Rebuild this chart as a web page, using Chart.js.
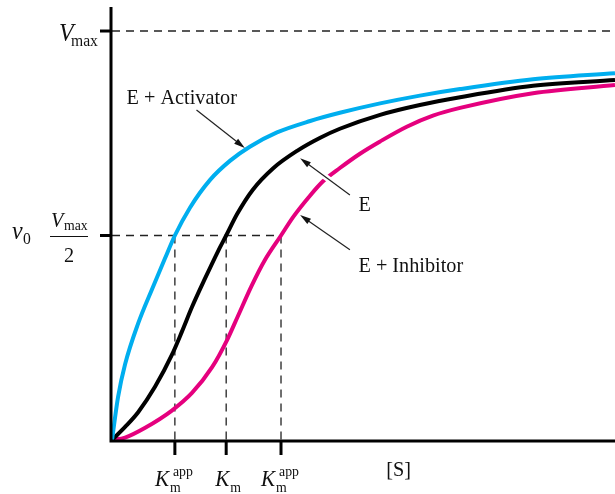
<!DOCTYPE html>
<html>
<head>
<meta charset="utf-8">
<script src="https://cdn.jsdelivr.net/npm/chart.js@4.4.0/dist/chart.umd.min.js"></script>
<style>
  body { margin: 0; background: #fff; }
  #wrap { width: 615px; height: 494px; position: relative; }
</style>
</head>
<body>
<div id="wrap"><canvas id="kineticsChart"></canvas></div>
<script>
// [S] (arbitrary units) and v0 / Vmax
const sActivator = [0, 0.12, 0.26, 0.52, 0.80, 1.05, 1.25, 1.55, 1.95, 2.35, 2.74, 3.28, 3.94, 4.53, 5.33, 6.12, 6.92, 8.37, 10];
const vActivator = [0, 0.105, 0.185, 0.285, 0.370, 0.443, 0.5, 0.568, 0.636, 0.683, 0.717, 0.752, 0.780, 0.800, 0.823, 0.842, 0.858, 0.882, 0.897];

const sEnzyme = [0, 0.26, 0.52, 0.855, 1.19, 1.39, 1.59, 1.85, 2.11, 2.27, 2.49, 2.80, 3.20, 3.68, 4.14, 4.53, 5.33, 6.12, 6.92, 8.37, 10];
const vEnzyme = [0, 0.032, 0.068, 0.130, 0.208, 0.265, 0.325, 0.395, 0.462, 0.5, 0.553, 0.612, 0.664, 0.707, 0.739, 0.761, 0.795, 0.819, 0.838, 0.866, 0.880];

const sInhibitor = [0, 0.26, 0.66, 1.19, 1.59, 1.99, 2.29, 2.50, 2.78, 3.04, 3.36, 3.60, 3.94, 4.19, 4.53, 4.93, 5.33, 5.86, 6.38, 6.92, 8.37, 10];
const vInhibitor = [0, 0.006, 0.030, 0.072, 0.115, 0.178, 0.245, 0.302, 0.378, 0.440, 0.5, 0.545, 0.598, 0.632, 0.665, 0.700, 0.730, 0.766, 0.793, 0.812, 0.848, 0.868];

const vmax = 1;
const halfV = 0.5;
const sMax = 10;
// Km^app (activator), Km, Km^app (inhibitor)
const kmValues = [1.25, 2.27, 3.36];
const kmSup = ['app', '', 'app'];
const sLabelAt = 5.7;

const curveLabels = ['E + Activator', 'E', 'E + Inhibitor'];
// arrow [start s, start v, tip s, tip v] and text anchor [s, v]
const arrows = [[1.68, 0.807, 2.64, 0.714], [4.73, 0.599, 3.74, 0.689], [4.73, 0.465, 3.74, 0.550]];
const textAnchors = [[0.29, 0.822], [4.90, 0.559], [4.90, 0.411]];

const BLUE = '#00aeef';
const PINK = '#e5007e';

function pts(xs, ys) { return xs.map((x, i) => ({ x: x, y: ys[i] })); }

function curve(label, xs, ys, color) {
  return {
    label: label, data: pts(xs, ys), borderColor: color, borderWidth: 4,
    pointRadius: 0, cubicInterpolationMode: 'monotone', fill: false, order: 0
  };
}
function dashed(data) {
  return {
    data: data, borderColor: '#222', borderWidth: 1.3, borderDash: [8, 6],
    pointRadius: 0, fill: false, order: 1
  };
}

const datasets = [
  curve('E + Activator', sActivator, vActivator, BLUE),
  curve('E', sEnzyme, vEnzyme, '#000'),
  curve('E + Inhibitor', sInhibitor, vInhibitor, PINK),
  dashed([{ x: 0, y: vmax }, { x: sMax, y: vmax }]),
  dashed([{ x: 0, y: halfV }, { x: kmValues[2], y: halfV }])
];
kmValues.forEach(k => datasets.push(dashed([{ x: k, y: halfV }, { x: k, y: 0 }])));

function txt(ctx, s, x, y, size, italic, align) {
  ctx.font = (italic ? 'italic ' : '') + size + 'px "Liberation Serif"';
  ctx.textAlign = align || 'left';
  ctx.textBaseline = 'alphabetic';
  ctx.save();
  ctx.translate(x, y);
  ctx.scale(0.92, 1);
  ctx.fillText(s, 0, 0);
  ctx.restore();
}

const decorations = {
  id: 'decorations',
  afterDatasetsDraw(chart) {
    const ctx = chart.ctx;
    const xs = chart.scales.x, ys = chart.scales.y;
    const px = v => xs.getPixelForValue(v), py = v => ys.getPixelForValue(v);
    const x0 = px(0), y0 = py(0);
    ctx.save();
    ctx.fillStyle = '#111';
    ctx.strokeStyle = '#000';

    // axes
    ctx.lineWidth = 3;
    ctx.beginPath();
    ctx.moveTo(x0 - 1, chart.chartArea.top + 2);
    ctx.lineTo(x0 - 1, y0 + 1);
    ctx.lineTo(chart.chartArea.right, y0 + 1);
    ctx.stroke();
    // tick marks
    [vmax, halfV].forEach(v => {
      ctx.beginPath(); ctx.moveTo(x0 - 12, py(v)); ctx.lineTo(x0, py(v)); ctx.stroke();
    });
    kmValues.forEach(k => {
      ctx.beginPath(); ctx.moveTo(px(k), y0); ctx.lineTo(px(k), y0 + 15); ctx.stroke();
    });

    // arrows
    arrows.forEach((a, i) => {
      const sx = px(a[0]), sy = py(a[1]), tx = px(a[2]), ty = py(a[3]);
      const ang = Math.atan2(ty - sy, tx - sx);
      if (i === 1) {
        ctx.strokeStyle = '#fff'; ctx.lineWidth = 6;
        ctx.beginPath();
        ctx.moveTo(sx + (tx - sx) * 0.3, sy + (ty - sy) * 0.3);
        ctx.lineTo(sx + (tx - sx) * 0.7, sy + (ty - sy) * 0.7);
        ctx.stroke();
      }
      ctx.strokeStyle = '#222'; ctx.lineWidth = 1.2;
      ctx.beginPath();
      ctx.moveTo(sx, sy);
      ctx.lineTo(tx - 8 * Math.cos(ang), ty - 8 * Math.sin(ang));
      ctx.stroke();
      ctx.beginPath();
      ctx.moveTo(tx, ty);
      ctx.lineTo(tx - 11 * Math.cos(ang) + 3.2 * Math.sin(ang), ty - 11 * Math.sin(ang) - 3.2 * Math.cos(ang));
      ctx.lineTo(tx - 11 * Math.cos(ang) - 3.2 * Math.sin(ang), ty - 11 * Math.sin(ang) + 3.2 * Math.cos(ang));
      ctx.closePath();
      ctx.fill();
    });

    // curve labels
    curveLabels.forEach((s, i) => txt(ctx, s, px(textAnchors[i][0]), py(textAnchors[i][1]), 22, false));

    // y axis labels
    const yV = py(vmax), yH = py(halfV);
    txt(ctx, 'V', x0 - 53, yV + 10, 26, true);
    txt(ctx, 'max', x0 - 41, yV + 15, 17, false);
    txt(ctx, 'v', x0 - 100, yH + 3, 26, true);
    txt(ctx, '0', x0 - 89, yH + 8, 17, false);
    txt(ctx, 'V', x0 - 61, yH - 9, 22, true);
    txt(ctx, 'max', x0 - 48, yH - 6, 15, false);
    ctx.lineWidth = 1.2; ctx.strokeStyle = '#111';
    ctx.beginPath(); ctx.moveTo(x0 - 62, yH + 1); ctx.lineTo(x0 - 24, yH + 1); ctx.stroke();
    txt(ctx, '2', x0 - 43, yH + 26, 22, false, 'center');

    // x axis labels
    kmValues.forEach((k, i) => {
      const left = px(k) - (kmSup[i] ? 20 : 11);
      txt(ctx, 'K', left, y0 + 46, 23, true);
      txt(ctx, 'm', left + 15, y0 + 52, 15, false);
      if (kmSup[i]) txt(ctx, kmSup[i], left + 18, y0 + 36, 15, false);
    });
    txt(ctx, '[S]', px(sLabelAt), y0 + 36, 22, false, 'center');
    ctx.restore();
  }
};

new Chart(document.getElementById('kineticsChart'), {
  type: 'line',
  data: { datasets: datasets },
  options: {
    responsive: true,
    maintainAspectRatio: false,
    animation: false,
    layout: { padding: { left: 112, right: 0, top: 5, bottom: 54 } },
    plugins: { legend: { display: false }, tooltip: { enabled: false } },
    scales: {
      x: { type: 'linear', min: 0, max: sMax, display: false },
      y: { type: 'linear', min: 0, max: 1.0636, display: false }
    }
  },
  plugins: [decorations]
});
</script>
</body>
</html>
